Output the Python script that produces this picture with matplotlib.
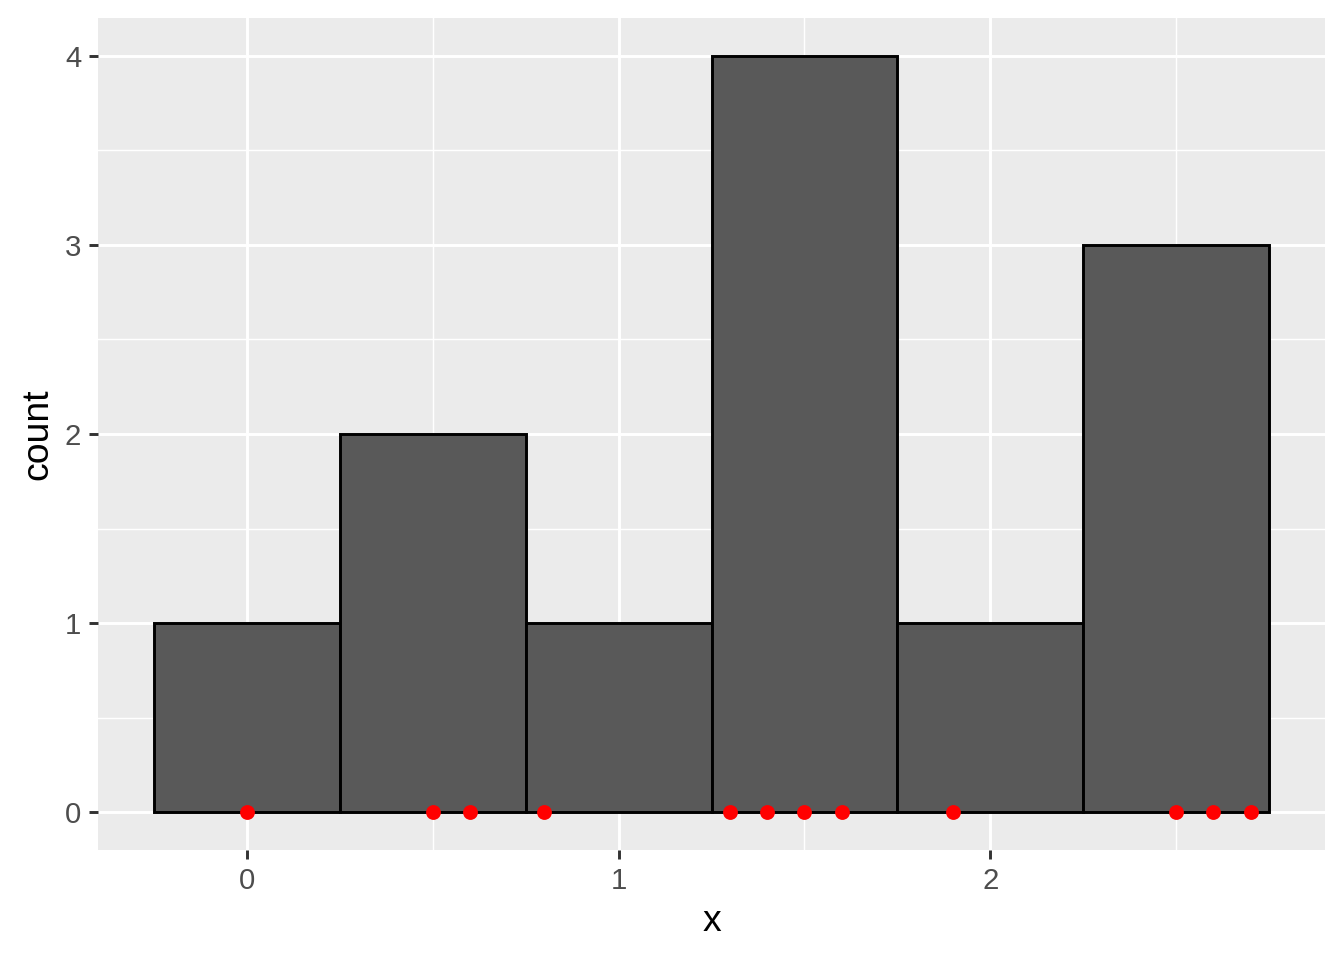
import numpy as np
import matplotlib.pyplot as plt

x_vals = [0, 0.5, 0.6, 0.8, 1.3, 1.4, 1.5, 1.6, 1.9, 2.5, 2.6, 2.7]
bin_edges = [-0.25, 0.25, 0.75, 1.25, 1.75, 2.25, 2.75]
x_ticks = [0, 1, 2]
y_ticks = [0, 1, 2, 3, 4]

def main():
    plt.rcParams['font.family'] = ['Liberation Sans', 'DejaVu Sans']
    fig = plt.figure(figsize=(7, 5), dpi=192)
    ax = fig.add_axes([98 / 1344, 1 - 850 / 960, (1325 - 98) / 1344, (850 - 18) / 960])
    ax.set_facecolor('#EBEBEB')

    counts, edges = np.histogram(x_vals, bins=bin_edges)
    ax.bar(edges[:-1], counts, width=np.diff(edges), align='edge',
           color='#595959', edgecolor='black', linewidth=1.1, zorder=3)
    ax.scatter(x_vals, np.zeros(len(x_vals)), s=31, color='red',
               zorder=4, clip_on=False, linewidths=0)

    ax.set_xlim(-0.4, 2.9)
    ax.set_ylim(-0.2, 4.2)
    ax.set_xticks(x_ticks)
    ax.set_yticks(y_ticks)
    ax.set_xticks([0.5, 1.5, 2.5], minor=True)
    ax.set_yticks([0.5, 1.5, 2.5, 3.5], minor=True)
    ax.grid(which='major', color='white', linewidth=1.1, zorder=0)
    ax.grid(which='minor', color='white', linewidth=0.55, zorder=0)
    ax.set_axisbelow(True)
    for s in ax.spines.values():
        s.set_visible(False)
    ax.tick_params(which='major', length=3.5, width=1.1, color='#333333',
                   labelcolor='#4D4D4D', labelsize=11, pad=2.8)
    ax.tick_params(which='minor', length=0)

    ax.set_xlabel('x', fontsize=14, labelpad=3.5)
    ax.set_ylabel('count', fontsize=14, labelpad=3.5)

    fig.savefig('out.png', dpi=192)

if __name__ == "__main__":
    main()
